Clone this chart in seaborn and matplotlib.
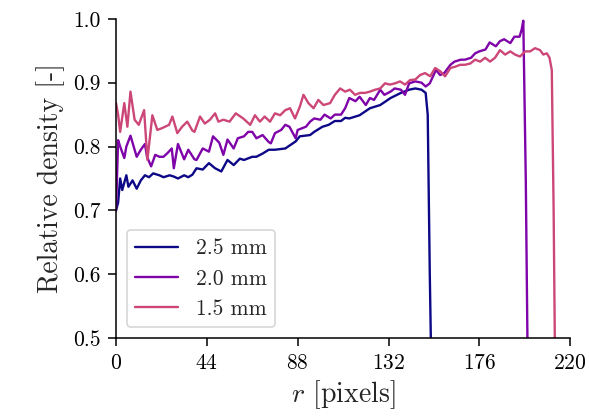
import matplotlib
import matplotlib.pyplot as plt
import pandas as pd
import seaborn as sns

matplotlib.use('Agg')

# radial profiles
r_25 = [0, 1, 2, 3, 5, 6, 8, 10, 12, 14, 16, 18, 21, 23, 26, 28, 30, 33, 35, 37,
        39, 42, 45, 48, 51, 54, 57, 60, 62, 66, 68, 71, 74, 77, 82, 87, 89, 94, 96,
        100, 103, 106, 109, 111, 113, 118, 123, 128, 133, 138, 142, 145, 148, 150,
        151, 152, 153]
d_25 = [0.700, 0.712, 0.750, 0.732, 0.755, 0.737, 0.747, 0.734, 0.747, 0.755,
        0.752, 0.758, 0.755, 0.752, 0.755, 0.753, 0.750, 0.755, 0.752, 0.756,
        0.766, 0.764, 0.774, 0.766, 0.761, 0.779, 0.771, 0.781, 0.779, 0.784,
        0.784, 0.789, 0.795, 0.795, 0.797, 0.808, 0.816, 0.818, 0.823, 0.831,
        0.834, 0.840, 0.840, 0.845, 0.844, 0.849, 0.860, 0.865, 0.876, 0.884,
        0.889, 0.891, 0.889, 0.884, 0.850, 0.600, 0.400]

r_20 = [0, 1, 2, 4, 5, 7, 9, 10, 12, 14, 15, 17, 19, 21, 23, 25, 27, 28, 30, 33,
        35, 38, 39, 42, 45, 47, 50, 52, 54, 57, 59, 62, 64, 66, 68, 71, 74, 75,
        77, 80, 82, 84, 87, 88, 92, 94, 96, 99, 101, 104, 106, 109, 111, 113,
        116, 118, 121, 123, 125, 128, 130, 133, 135, 138, 140, 142, 145, 148,
        150, 152, 155, 157, 159, 162, 164, 167, 169, 172, 174, 176, 179, 181,
        184, 186, 188, 191, 193, 195.5, 196.5, 197.3, 198.5, 199.3, 199.6]
d_20 = [0.700, 0.810, 0.800, 0.782, 0.800, 0.817, 0.795, 0.784, 0.795, 0.804,
        0.784, 0.769, 0.787, 0.784, 0.784, 0.790, 0.797, 0.766, 0.804, 0.780,
        0.795, 0.780, 0.779, 0.797, 0.792, 0.816, 0.806, 0.787, 0.811, 0.797,
        0.813, 0.816, 0.823, 0.823, 0.813, 0.818, 0.807, 0.805, 0.821, 0.826,
        0.834, 0.831, 0.813, 0.826, 0.831, 0.839, 0.844, 0.842, 0.850, 0.844,
        0.850, 0.850, 0.860, 0.876, 0.871, 0.878, 0.865, 0.876, 0.873, 0.889,
        0.881, 0.886, 0.891, 0.889, 0.881, 0.899, 0.902, 0.900, 0.894, 0.899,
        0.920, 0.912, 0.915, 0.928, 0.933, 0.936, 0.936, 0.939, 0.946, 0.949,
        0.952, 0.963, 0.957, 0.965, 0.968, 0.962, 0.972, 0.972, 0.983, 0.997,
        0.750, 0.500, 0.450]

r_15 = [0, 1, 2, 4, 5.5, 7, 9, 11, 13.6, 15.2, 17.6, 20, 22.4, 25.7, 27.3, 29.7,
        32, 34.5, 37, 38, 40.7, 43, 45.5, 48, 49.6, 52, 55, 58, 61.6, 65, 67.3,
        69.7, 72, 74.6, 77, 79.5, 82, 84.3, 86.7, 89, 90.8, 93.2, 95.7, 98, 100.5,
        103.7, 106, 108.6, 111, 113.3, 115.8, 118.2, 120.6, 123, 125.5, 128,
        130.3, 132.7, 135.2, 137.6, 140, 142.4, 145, 147.3, 149.7, 152.2, 154.6,
        157, 159.4, 162, 164.3, 166.7, 169, 171.6, 174, 176.4, 178.8, 181.2,
        183.6, 186, 188.5, 191, 193.3, 195.7, 198.2, 200.6, 203, 205.4, 207,
        208.7, 210, 211.1, 212, 212.7]
d_15 = [0.868, 0.850, 0.823, 0.868, 0.831, 0.886, 0.842, 0.834, 0.857, 0.779,
        0.849, 0.826, 0.829, 0.834, 0.847, 0.821, 0.831, 0.839, 0.825, 0.823,
        0.847, 0.836, 0.842, 0.852, 0.839, 0.842, 0.839, 0.852, 0.844, 0.834,
        0.849, 0.839, 0.847, 0.839, 0.852, 0.849, 0.857, 0.860, 0.844, 0.862,
        0.881, 0.868, 0.860, 0.873, 0.865, 0.868, 0.881, 0.891, 0.886, 0.889,
        0.881, 0.884, 0.884, 0.886, 0.889, 0.891, 0.899, 0.897, 0.899, 0.902,
        0.897, 0.904, 0.905, 0.912, 0.915, 0.910, 0.923, 0.918, 0.910, 0.923,
        0.925, 0.928, 0.928, 0.930, 0.936, 0.933, 0.939, 0.933, 0.939, 0.951,
        0.944, 0.949, 0.944, 0.941, 0.949, 0.949, 0.954, 0.951, 0.944, 0.946,
        0.939, 0.920, 0.700, 0.450]

labels = ['2.5 mm', '2.0 mm', '1.5 mm']
colors = ['#0d0887', '#7e03a8', '#cc4778']
x_ticks = [0, 44, 88, 132, 176, 220]

df = pd.concat([
    pd.DataFrame({'r': r_25, 'density': d_25, 'size': labels[0]}),
    pd.DataFrame({'r': r_20, 'density': d_20, 'size': labels[1]}),
    pd.DataFrame({'r': r_15, 'density': d_15, 'size': labels[2]}),
])

sns.set_style('ticks')
plt.rcParams['font.family'] = ['cmr10', 'DejaVu Serif']
plt.rcParams['mathtext.fontset'] = 'cm'
plt.rcParams['axes.formatter.use_mathtext'] = True

fig = plt.figure(figsize=(5.89, 4.18), dpi=100)
ax = fig.add_axes([0.197, 0.191, 0.771, 0.764])

sns.lineplot(data=df, x='r', y='density', hue='size', hue_order=labels,
             palette=dict(zip(labels, colors)), sort=False, estimator=None,
             linewidth=1.7, ax=ax)

ax.set_xlim(0, 220)
ax.set_ylim(0.5, 1.0)
ax.set_xticks(x_ticks)
ax.set_yticks([0.5, 0.6, 0.7, 0.8, 0.9, 1.0])
ax.set_yticklabels(['0.5', '0.6', '0.7', '0.8', '0.9', '1.0'])
ax.tick_params(labelsize=15.5, colors='black', width=1.1, length=6, pad=5)
ax.set_xlabel('$r$ [pixels]', fontsize=20)
ax.set_ylabel('Relative density [-]', fontsize=20, labelpad=6)
for s in ['left', 'bottom']:
    ax.spines[s].set_linewidth(1.1)
    ax.spines[s].set_color('black')
sns.despine(ax=ax)

leg = ax.legend(loc='lower left', fontsize=15.5, frameon=True, title=None,
                borderaxespad=0.5, handlelength=2.0)
leg.get_frame().set_linewidth(1.2)

fig.savefig('out.png', dpi=100)
plt.close(fig)
